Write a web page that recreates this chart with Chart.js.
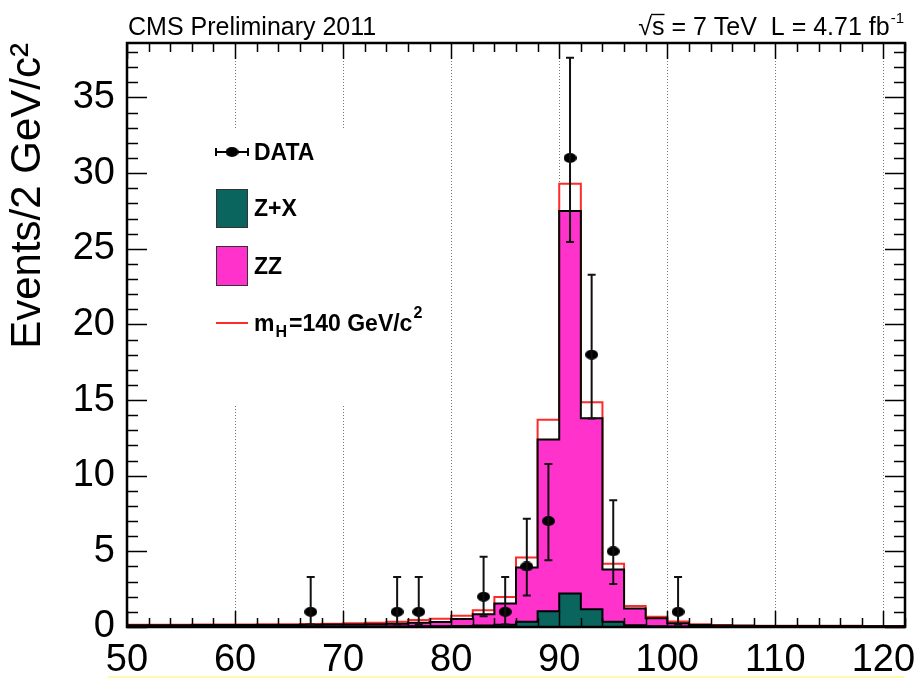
<!DOCTYPE html>
<html>
<head>
<meta charset="utf-8">
<script src="https://cdn.jsdelivr.net/npm/chart.js@4.4.1/dist/chart.umd.min.js"></script>
<style>
  html, body { margin: 0; padding: 0; background: #ffffff; }
  canvas { display: block; }
</style>
</head>
<body>
<canvas id="chart" width="921" height="678"></canvas>
<script>
// Four-lepton Z1 mass spectrum, 2 GeV/c^2 bins from 50 to 122
const binCenters = [51, 53, 55, 57, 59, 61, 63, 65, 67, 69, 71, 73, 75, 77, 79, 81, 83, 85,
                    87, 89, 91, 93, 95, 97, 99, 101, 103, 105, 107, 109, 111, 113, 115, 117, 119, 121];

// Z+X reducible background (events per bin)
const zxEvents = [0.03, 0.03, 0.03, 0.03, 0.03, 0.03, 0.03, 0.03, 0.03, 0.03, 0.03, 0.03,
                  0.04, 0.05, 0.05, 0.07, 0.10, 0.15, 0.35, 1.04, 2.22, 1.17, 0.35, 0.11,
                  0.05, 0.03, 0.02, 0.02, 0.02, 0.02, 0.02, 0.02, 0.02, 0.02, 0.02, 0.02];

// ZZ continuum (events per bin, stacked on Z+X)
const zzEvents = [0.09, 0.09, 0.09, 0.10, 0.10, 0.10, 0.11, 0.11, 0.12, 0.13, 0.14, 0.16,
                  0.18, 0.23, 0.28, 0.46, 0.74, 1.40, 3.59, 11.36, 25.28, 12.63, 3.45, 1.12,
                  0.53, 0.21, 0.12, 0.08, 0.06, 0.05, 0.05, 0.04, 0.04, 0.04, 0.03, 0.03];

// Higgs signal, m_H = 140 GeV/c^2 (events per bin, stacked on the backgrounds)
const higgs140Events = [0.03, 0.03, 0.03, 0.03, 0.04, 0.04, 0.04, 0.05, 0.05, 0.06, 0.07, 0.09,
                        0.13, 0.18, 0.22, 0.22, 0.26, 0.43, 0.66, 1.30, 1.80, 1.05, 0.38, 0.16,
                        0.10, 0.12, 0.05, 0.03, 0.02, 0.02, 0.02, 0.02, 0.02, 0.02, 0.02, 0.02];

// Observed events with asymmetric Poisson errors
const dataMass    = [67, 75, 77, 83, 85, 87, 89, 91, 93, 95, 101];
const dataEvents  = [1, 1, 1, 2, 1, 4, 7, 31, 18, 5, 1];
const dataErrLow  = [0.83, 0.83, 0.83, 1.29, 0.83, 1.91, 2.58, 5.55, 4.22, 2.16, 0.83];
const dataErrHigh = [2.30, 2.30, 2.30, 2.64, 2.30, 3.16, 3.77, 6.63, 5.29, 3.38, 2.30];

// Axis tick labels
const xTickValues = [50, 60, 70, 80, 90, 100, 110, 120];
const yTickValues = [0, 5, 10, 15, 20, 25, 30, 35];

const BIN_WIDTH = 2;
const FONT = "'Liberation Sans', Arial, Helvetica, sans-serif";
const COLOR_ZX = '#0b655f';
const COLOR_ZZ = '#ff33cc';
const COLOR_SIG = '#ff2a2a';

// Histogram contour: one point at each lower bin edge plus the closing upper edge
function stepPoints(values) {
  const pts = binCenters.map((c, i) => ({ x: c - BIN_WIDTH / 2, y: values[i] }));
  const last = binCenters.length - 1;
  pts.push({ x: binCenters[last] + BIN_WIDTH / 2, y: values[last] });
  return pts;
}

// Elliptical data marker
function makeMarker(w, h) {
  const c = document.createElement('canvas');
  c.width = w; c.height = h;
  const g = c.getContext('2d');
  g.fillStyle = '#000';
  g.beginPath();
  g.ellipse(w / 2, h / 2, w / 2, h / 2, 0, 0, Math.PI * 2);
  g.fill();
  return c;
}
const dataMarker = makeMarker(13, 10);

// White legend panel, drawn over the grid but under the histograms
const legendPanel = {
  id: 'legendPanel',
  beforeDatasetsDraw(chart) {
    const { ctx } = chart;
    ctx.save();
    ctx.fillStyle = '#ffffff';
    ctx.fillRect(190, 128, 247, 277);

    const sx0 = 216, sx1 = 248, tx = 254;
    ctx.font = "bold 23px " + FONT;
    ctx.textBaseline = 'middle';
    ctx.fillStyle = '#000';

    // DATA
    ctx.strokeStyle = '#000';
    ctx.lineWidth = 2;
    ctx.beginPath();
    ctx.moveTo(sx0, 152); ctx.lineTo(sx1, 152);
    ctx.moveTo(sx0, 148); ctx.lineTo(sx0, 156);
    ctx.moveTo(sx1, 148); ctx.lineTo(sx1, 156);
    ctx.stroke();
    ctx.drawImage(dataMarker, 232 - 6.5, 152 - 5);
    ctx.fillText('DATA', tx, 154);

    // Z+X
    ctx.fillStyle = COLOR_ZX;
    ctx.fillRect(sx0, 189, sx1 - sx0, 39);
    ctx.strokeStyle = '#333';
    ctx.lineWidth = 1;
    ctx.strokeRect(sx0 + 0.5, 189.5, sx1 - sx0 - 1, 38);
    ctx.fillStyle = '#000';
    ctx.fillText('Z+X', tx, 210);

    // ZZ
    ctx.fillStyle = COLOR_ZZ;
    ctx.fillRect(sx0, 246, sx1 - sx0, 40);
    ctx.strokeRect(sx0 + 0.5, 246.5, sx1 - sx0 - 1, 39);
    ctx.fillStyle = '#000';
    ctx.fillText('ZZ', tx, 268);

    // m_H = 140 GeV/c^2
    ctx.strokeStyle = COLOR_SIG;
    ctx.lineWidth = 2;
    ctx.beginPath();
    ctx.moveTo(sx0, 323); ctx.lineTo(sx1, 323);
    ctx.stroke();
    let x = tx;
    ctx.fillStyle = '#000';
    ctx.fillText('m', x, 325);
    x += ctx.measureText('m').width + 1;
    ctx.font = "bold 16px " + FONT;
    ctx.fillText('H', x, 333);
    x += ctx.measureText('H').width + 2;
    ctx.font = "bold 23px " + FONT;
    ctx.fillText('=140 GeV/c', x, 325);
    x += ctx.measureText('=140 GeV/c').width + 1;
    ctx.font = "bold 16px " + FONT;
    ctx.fillText('2', x, 314);
    ctx.restore();
  }
};

// Data error bars, frame with inward ticks, and header text
const decorations = {
  id: 'decorations',
  afterDatasetsDraw(chart) {
    const { ctx, chartArea: { left, right, top, bottom }, scales: { x, y } } = chart;
    ctx.save();

    // vertical error bars with end caps
    ctx.strokeStyle = '#111';
    ctx.lineWidth = 2;
    dataMass.forEach((m, i) => {
      const px = x.getPixelForValue(m);
      const lo = y.getPixelForValue(dataEvents[i] - dataErrLow[i]);
      const hi = y.getPixelForValue(dataEvents[i] + dataErrHigh[i]);
      ctx.beginPath();
      ctx.moveTo(px, lo); ctx.lineTo(px, hi);
      ctx.moveTo(px - 4, lo); ctx.lineTo(px + 4, lo);
      ctx.moveTo(px - 4, hi); ctx.lineTo(px + 4, hi);
      ctx.stroke();
    });

    // inward tick marks on all four sides
    ctx.strokeStyle = '#000';
    ctx.lineWidth = 1.5;
    ctx.beginPath();
    for (let v = x.min; v <= x.max + 1e-6; v += 2) {
      const px = Math.round(x.getPixelForValue(v)) + 0.5;
      const len = (v % 10 === 0) ? 16 : 9;
      ctx.moveTo(px, bottom); ctx.lineTo(px, bottom - len);
      ctx.moveTo(px, top); ctx.lineTo(px, top + len);
    }
    for (let v = 0; v <= y.max + 1e-6; v += 1) {
      const py = Math.round(y.getPixelForValue(v)) + 0.5;
      const len = (v % 5 === 0) ? 20 : 11;
      ctx.moveTo(left, py); ctx.lineTo(left + len, py);
      ctx.moveTo(right, py); ctx.lineTo(right - len, py);
    }
    ctx.stroke();

    // frame
    ctx.lineWidth = 2.5;
    ctx.strokeRect(left, top, right - left, bottom - top);
    ctx.restore();
  },
  afterDraw(chart) {
    const { ctx, chartArea: { left } } = chart;
    ctx.save();
    ctx.fillStyle = '#000';
    ctx.textBaseline = 'alphabetic';
    ctx.font = "25px " + FONT;
    ctx.fillText('CMS Preliminary 2011', left + 1, 35);

    // sqrt(s) = 7 TeV  L = 4.71 fb^-1, right aligned
    const main = ' = 7 TeV  L = 4.71 fb';
    ctx.font = "25px " + FONT;
    const wRoot = ctx.measureText('\u221A').width;
    const wS = ctx.measureText('s').width;
    const wMain = ctx.measureText(main).width;
    ctx.font = "15px " + FONT;
    const wSup = ctx.measureText('-1').width;
    let xPos = 904 - (wRoot + wS + wMain + wSup + 1);
    ctx.font = "25px " + FONT;
    ctx.fillText('\u221A', xPos, 35);
    xPos += wRoot;
    ctx.fillText('s', xPos, 35);
    ctx.strokeStyle = '#000';
    ctx.lineWidth = 1.4;
    ctx.beginPath();
    ctx.moveTo(xPos - 1, 14.5); ctx.lineTo(xPos + wS, 14.5);
    ctx.stroke();
    xPos += wS;
    ctx.fillText(main, xPos, 35);
    xPos += wMain + 1;
    ctx.font = "15px " + FONT;
    ctx.fillText('-1', xPos, 23);

    // faint strip along the lower edge
    ctx.fillStyle = 'rgba(255, 250, 150, 0.8)';
    ctx.fillRect(108, 676, 796, 2);
    ctx.restore();
  }
};

const ctx = document.getElementById('chart').getContext('2d');
new Chart(ctx, {
  type: 'line',
  data: {
    datasets: [
      {
        type: 'scatter',
        label: 'DATA',
        data: dataMass.map((m, i) => ({ x: m, y: dataEvents[i] })),
        stack: 'observed',
        pointStyle: dataMarker,
        pointRadius: 6,
        showLine: false
      },
      {
        label: 'Z+X',
        data: stepPoints(zxEvents),
        stack: 'expected',
        stepped: 'before',
        fill: 'origin',
        backgroundColor: COLOR_ZX,
        borderColor: '#000',
        borderWidth: 2,
        pointRadius: 0
      },
      {
        label: 'ZZ',
        data: stepPoints(zzEvents),
        stack: 'expected',
        stepped: 'before',
        fill: '-1',
        backgroundColor: COLOR_ZZ,
        borderColor: '#000',
        borderWidth: 2,
        pointRadius: 0
      },
      {
        label: 'mH=140 GeV/c2',
        data: stepPoints(higgs140Events),
        stack: 'expected',
        stepped: 'before',
        fill: false,
        borderColor: COLOR_SIG,
        borderWidth: 2,
        pointRadius: 0
      }
    ]
  },
  options: {
    responsive: false,
    animation: false,
    devicePixelRatio: 1,
    layout: { padding: { top: 43, right: 16, left: 0, bottom: 0 } },
    plugins: { legend: { display: false }, tooltip: { enabled: false }, title: { display: false } },
    scales: {
      x: {
        type: 'linear',
        min: 50,
        max: 122,
        afterBuildTicks: s => { s.ticks = xTickValues.map(v => ({ value: v })); },
        afterFit: s => { s.height = 51; s.paddingLeft = 0; s.paddingRight = 0; },
        grid: { color: '#777', lineWidth: 1, drawTicks: false },
        border: { display: false, dash: [1, 2] },
        ticks: { font: { family: FONT, size: 38 }, color: '#000', padding: 11, maxRotation: 0, autoSkip: false }
      },
      y: {
        type: 'linear',
        min: 0,
        max: 38.6,
        stacked: true,
        afterBuildTicks: s => { s.ticks = yTickValues.map(v => ({ value: v })); },
        afterFit: s => { s.width = 127; s.paddingTop = 0; s.paddingBottom = 0; },
        grid: { display: false, drawTicks: false },
        border: { display: false },
        ticks: { font: { family: FONT, size: 38 }, color: '#000', padding: 12, autoSkip: false },
        title: {
          display: true,
          text: 'Events/2 GeV/c\u00B2',
          align: 'end',
          color: '#000',
          font: { family: FONT, size: 42 },
          padding: { top: 3, bottom: 0 }
        }
      }
    }
  },
  plugins: [legendPanel, decorations]
});
</script>
</body>
</html>
